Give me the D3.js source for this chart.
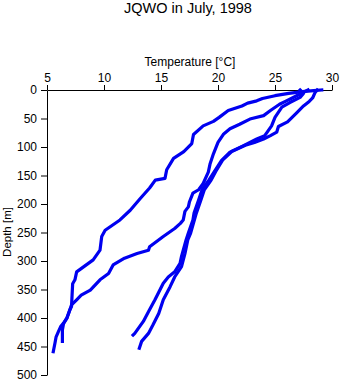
<!DOCTYPE html>
<html>
<head>
<meta charset="utf-8">
<script src="https://cdn.jsdelivr.net/npm/d3@7"></script>
<style>
  html, body { margin: 0; padding: 0; background: #fff; }
  svg { display: block; font-family: "Liberation Sans", Arial, Helvetica, sans-serif; }
</style>
</head>
<body>
<svg id="chart" width="341" height="384"></svg>
<script>
// ---- data (temperature °C, depth m) ----
const titleText = "JQWO in July, 1998";
const xLabel = "Temperature [°C]";
const yLabel = "Depth [m]";
const tempTicks = [5, 10, 15, 20, 25, 30];
const depthTicks = [0, 50, 100, 150, 200, 250, 300, 350, 400, 450, 500];

const castA_temp  = [29.1, 28.4, 27.4, 26.2, 25.0, 23.9, 23.4, 22.6, 22.1, 20.9, 20.1, 19.6, 18.7, 17.85, 17.7, 17.0, 16.1, 15.5, 15.35, 14.5, 14.0, 13.2, 12.3, 11.4, 10.1, 9.8, 9.65, 9.05, 7.6, 7.45, 7.25, 7.2, 7.15, 7.0, 6.75, 6.45, 6.2, 6.0, 5.8, 5.7, 5.55];
const castA_depth = [0,    1,    3,    6,    10,   15,   19,   23,   28,   36,   48,   55,   63,   78,    94,   108,  120,  140,  155,   158,  172,  190,  211,  228,  246,  257, 281,  298,  319, 333,  340,  360, 380,  386, 400,  409,  415, 424, 433, 444, 459];

const castB_temp  = [27.9, 27.5, 26.9, 26.0, 25.4, 24.6, 24.0, 22.8, 21.9, 21.05, 20.5, 20.0, 19.6, 19.3, 19.15, 18.7, 18.3, 17.8, 17.5, 17.4, 17.1, 16.95, 16.7, 16.2, 15.2, 14.0, 13.9, 12.9, 11.8, 10.8, 10.4, 9.65, 8.8, 8.0, 7.6, 7.15, 7.0, 6.75, 6.45, 6.35, 6.35];
const castB_depth = [0,    4,    10,   19,   25,   36,   45,   51,   60,   68,    77,   92,   112,  130,  144,   164,  175,  181,  196,  205,  213,  228,   234,  243,  257,  275,  281,  287,  295,  307,  322,  333,  351, 360, 368, 377,  386, 400,  410,  421,  441];

const castC_temp  = [27.2, 27.5, 27.2, 26.3, 25.6, 25.0, 24.7, 24.1, 23.4, 22.2, 21.05, 20.3, 19.65, 19.2, 18.6, 18.3, 17.9, 17.8, 17.4, 17.2, 16.8, 16.67, 16.2, 15.64, 15.2, 14.47, 13.9, 13.45, 12.7, 12.55];
const castC_depth = [0,    6,    13,   22,   30,   48,   63,   80,   86,   98,   109,   124,  144,   158,  175,  193,  216,  228,  251,  263,  292,  304,   319,  328,   339,  368,   389,  406,   427,  430];

const castD_temp  = [28.7, 28.5, 28.3, 28.0, 27.5, 26.9, 26.1, 25.3, 25.15, 24.6, 24.0, 23.2, 22.4, 21.2, 20.4, 19.8, 19.4, 18.8, 18.5, 18.1, 17.6, 17.35, 17.1, 16.8, 16.2, 15.8, 15.2, 14.8, 14.3, 13.9, 13.3, 13.1];
const castD_depth = [0,    5,    14,   20,   28,   40,   56,   64,   74,    80,   86,   92,   97,   108,  123,  143,  158,  175,  193,  216,  251,  263,   287,  310,  328,  345,  368,  392,  412,  427,  441,  453];

const casts = [
  { temp: castA_temp, depth: castA_depth },
  { temp: castB_temp, depth: castB_depth },
  { temp: castC_temp, depth: castC_depth },
  { temp: castD_temp, depth: castD_depth }
];

// ---- layout ----
const svg = d3.select("#chart");
const x = d3.scaleLinear().domain([5, 30]).range([47, 332]);
const y = d3.scaleLinear().domain([0, 500]).range([90, 375]);
const fontSize = 12;

svg.append("text")
  .attr("x", 188).attr("y", 12.5)
  .attr("text-anchor", "middle")
  .attr("font-size", 14.5)
  .attr("fill", "#000")
  .text(titleText);

// x axis (top)
const xAxis = d3.axisTop(x).tickValues(tempTicks).tickSize(5).tickSizeOuter(0).tickPadding(3).tickFormat(d3.format("d"));
const gx = svg.append("g").attr("transform", "translate(0,90)").call(xAxis);
gx.selectAll("text").attr("font-size", fontSize).attr("font-family", "Liberation Sans, Arial, sans-serif").attr("fill", "#000");
gx.selectAll("line").attr("stroke", "#000");
gx.select(".domain").attr("stroke", "#000");

svg.append("text")
  .attr("x", 190).attr("y", 66)
  .attr("text-anchor", "middle")
  .attr("font-size", fontSize)
  .attr("fill", "#000")
  .text(xLabel);

// y axis (left)
const yAxis = d3.axisLeft(y).tickValues(depthTicks).tickSize(6).tickSizeOuter(0).tickPadding(4).tickFormat(d3.format("d"));
const gy = svg.append("g").attr("transform", "translate(47,0)").call(yAxis);
gy.selectAll("text").attr("font-size", fontSize).attr("font-family", "Liberation Sans, Arial, sans-serif").attr("fill", "#000");
gy.selectAll("line").attr("stroke", "#000");
gy.select(".domain").attr("stroke", "#000");

svg.append("text")
  .attr("transform", "translate(10.5,232) rotate(-90)")
  .attr("text-anchor", "middle")
  .attr("font-size", 11.5)
  .attr("fill", "#000")
  .text(yLabel);

// profiles
const line = d3.line()
  .x(d => x(d[0]))
  .y(d => y(d[1]))
  .curve(d3.curveLinear);

svg.append("g").selectAll("path")
  .data(casts)
  .join("path")
  .attr("d", c => line(c.temp.map((t, i) => [t, c.depth[i]])))
  .attr("fill", "none")
  .attr("stroke", "#0000f0")
  .attr("stroke-width", 3.2)
  .attr("stroke-linejoin", "round")
  .attr("stroke-linecap", "square");
</script>
</body>
</html>
